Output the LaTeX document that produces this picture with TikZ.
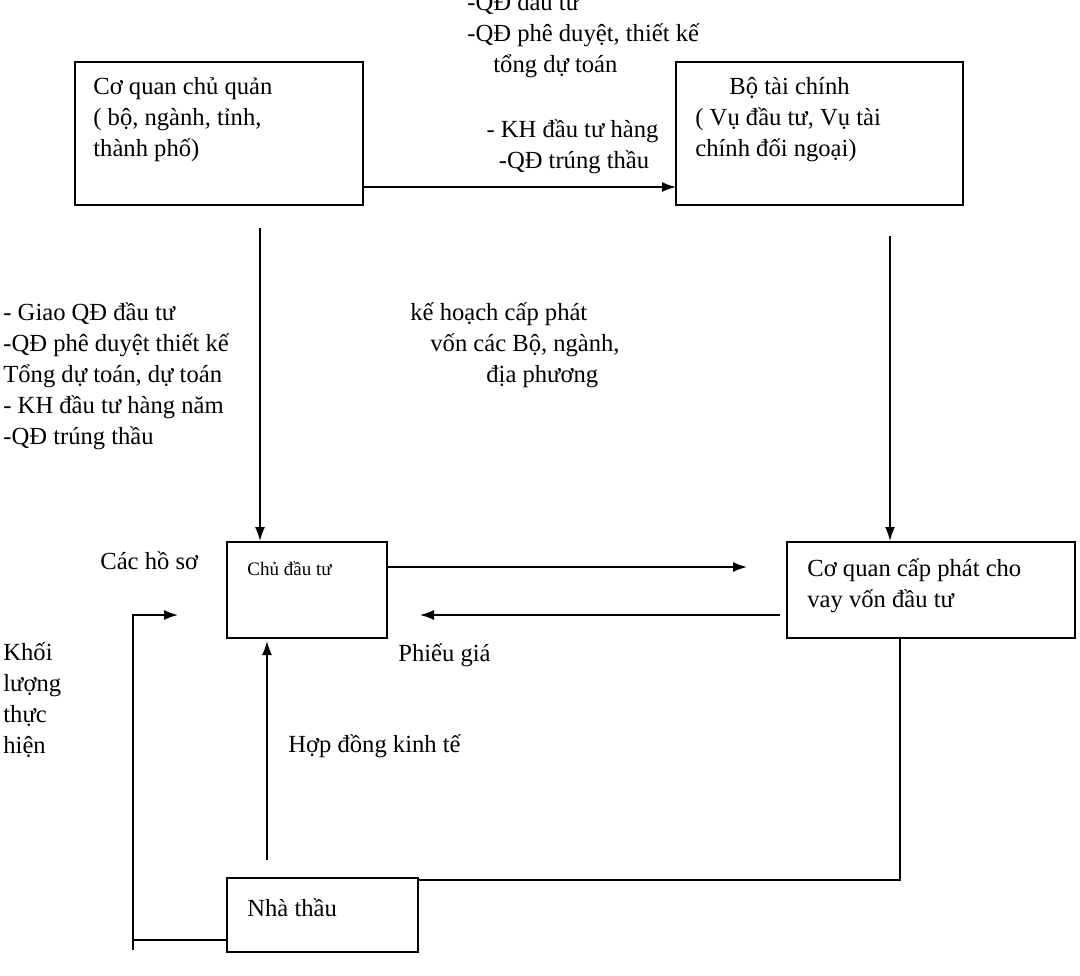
\documentclass[tikz,border=0pt]{standalone}
\usepackage{fontspec}
\setmainfont{Liberation Serif}
\begin{document}
\begin{tikzpicture}[x=0.5pt,y=-0.5pt,
 t/.style={anchor=west,inner sep=0,font=\fontsize{12.3}{15.5}\selectfont,align=left},
 ar/.style={thick,-{Latex[length=7pt,width=5pt]}}]
\usetikzlibrary{arrows.meta}
\useasboundingbox (0,0) rectangle (1080,975);
\draw[thick] (75,62) rectangle (363,205);
\node[t,anchor=north west] (ta) at (93,77) {Cơ quan chủ quản\\( bộ, ngành, tỉnh,\\thành phố)};
\draw[thick] (676,62) rectangle (963,205);
\node[t,anchor=north west] (tb) at (695,77) {\hspace*{17pt}Bộ tài chính\\( Vụ đầu tư, Vụ tài\\chính đối ngoại)};
\draw[thick] (227,542) rectangle (387,638);
\node[t,font=\fontsize{9.5}{11}\selectfont] (tc) at (247,569) {Chủ đầu tư};
\draw[thick] (787,542) rectangle (1075,638);
\node[t,anchor=north west] (td) at (807,558) {Cơ quan cấp phát cho\\vay vốn đầu tư};
\draw[thick] (227,878) rectangle (418,952);
\node[t] (te) at (247,908) {Nhà thầu};
\coordinate (a1) at (363,187); \coordinate (a2) at (676,187);
\draw[ar] (a1)--(a2);
\coordinate (b1) at (260,228); \coordinate (b2) at (260,541);
\draw[ar] (b1)--(b2);
\coordinate (c1) at (890,236); \coordinate (c2) at (890,541);
\draw[ar] (c1)--(c2);
\coordinate (d1) at (387,567); \coordinate (d2) at (747,567);
\draw[ar] (d1)--(d2);
\coordinate (e1) at (780,615); \coordinate (e2) at (420,615);
\draw[ar] (e1)--(e2);
\coordinate (f1) at (267,860); \coordinate (f2) at (267,641);
\draw[ar] (f1)--(f2);
\draw[thick] (900,638)--(900,880)--(418,880);
\coordinate (g1) at (227,940); \coordinate (g2) at (178,615);
\draw[thick] (g1)--(133,940); \draw[ar] (133,950)--(133,615)--(g2);
\node[t,anchor=north west] at (467,-8) {-QĐ đầu tư\\-QĐ phê duyệt, thiết kế\\\hspace*{13pt}tổng dự toán};
\node[t,anchor=north west] at (480,119) {\ - KH đầu tư hàng\\\ \ \ -QĐ trúng thầu};
\node[t,anchor=north west] at (3,302) {- Giao QĐ đầu tư\\-QĐ phê duyệt thiết kế\\Tổng dự toán, dự toán\\- KH đầu tư hàng năm\\-QĐ trúng thầu};
\node[t,anchor=north west] at (410,302) {kế hoạch cấp phát\\\hspace*{10pt}vốn các Bộ, ngành,\\\hspace*{38pt}địa phương};
\node[t] at (100,561) {Các hồ sơ};
\node[t,anchor=north west] at (3,642) {Khối\\lượng\\thực\\hiện};
\node[t] at (398,655) {Phiếu giá};
\node[t] at (288,746) {Hợp đồng kinh tế};
\end{tikzpicture}
\end{document}
